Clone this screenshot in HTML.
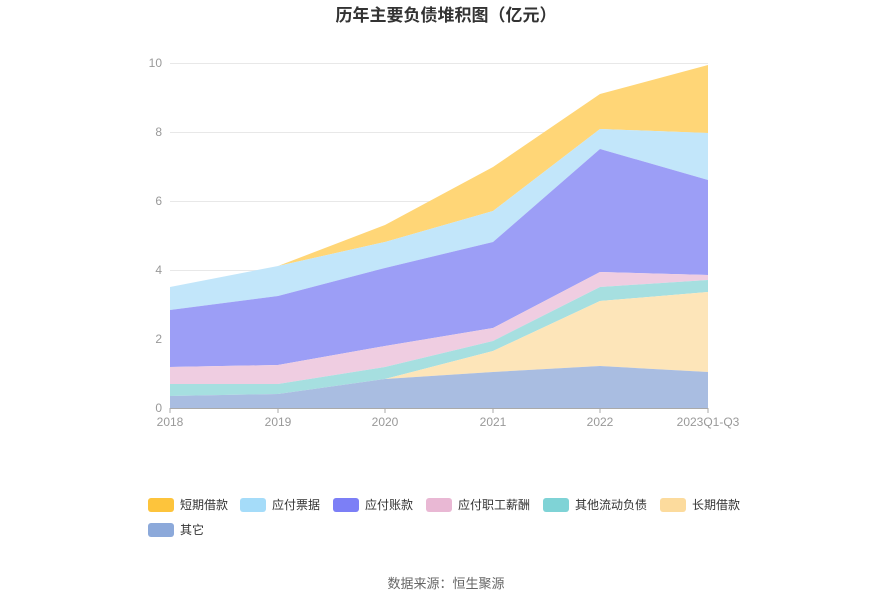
<!DOCTYPE html>
<html><head><meta charset="utf-8"><style>
body{margin:0;background:#fff;font-family:"Liberation Sans","Noto Sans CJK SC",sans-serif;}
</style></head><body>
<svg width="893" height="602" xmlns="http://www.w3.org/2000/svg" style="font-family:'Liberation Sans','Noto Sans CJK SC',sans-serif">
<rect width="893" height="602" fill="#fff"/>
<text x="446" y="21" text-anchor="middle" font-size="17" font-weight="bold" fill="#333">历年主要负债堆积图（亿元）</text>
<g stroke="#e8e8e8" stroke-width="1">
<line x1="170" y1="63.5" x2="708" y2="63.5"/><line x1="170" y1="132.5" x2="708" y2="132.5"/>
<line x1="170" y1="201.5" x2="708" y2="201.5"/><line x1="170" y1="270.5" x2="708" y2="270.5"/>
<line x1="170" y1="339.5" x2="708" y2="339.5"/>
</g>
<g font-size="12" fill="#999" text-anchor="end">
<text x="162" y="412">0</text><text x="162" y="343">2</text><text x="162" y="274">4</text>
<text x="162" y="205">6</text><text x="162" y="136">8</text><text x="162" y="67">10</text>
</g>
<!-- short borrow -->
<polygon fill="#ffd677" points="170,287 278,266 385,225 493,167 600,94 708,65 708,133 600,129 493,211 385,242 278,266 170,287"/>
<polygon fill="#c2e6fa" points="170,287 278,266 385,242 493,211 600,129 708,133 708,180 600,149 493,242 385,268 278,296 170,310"/>
<polygon fill="#9c9ef6" points="170,310 278,296 385,268 493,242 600,149 708,180 708,275 600,272 493,328 385,346 278,365 170,367"/>
<polygon fill="#efcde1" points="170,367 278,365 385,346 493,328 600,272 708,275 708,280 600,287 493,341 385,367 278,384 170,384"/>
<polygon fill="#a6dfe0" points="170,384 278,384 385,367 493,341 600,287 708,280 708,292 600,301 493,351 385,379 278,394 170,396"/>
<polygon fill="#fde5b9" points="170,396 278,394 385,379 493,351 600,301 708,292 708,372 600,366 493,372 385,379 278,394 170,396"/>
<polygon fill="#a9bde1" points="170,396 278,394 385,379 493,372 600,366 708,372 708,408 170,408"/>
<line x1="170" y1="408.5" x2="708" y2="408.5" stroke="#aaa"/>
<g stroke="#aaa"><line x1="170" y1="408" x2="170" y2="413"/><line x1="278" y1="408" x2="278" y2="413"/><line x1="385" y1="408" x2="385" y2="413"/><line x1="493" y1="408" x2="493" y2="413"/><line x1="600" y1="408" x2="600" y2="413"/><line x1="708" y1="408" x2="708" y2="413"/></g>
<g font-size="12" fill="#999" text-anchor="middle">
<text x="170" y="426">2018</text><text x="278" y="426">2019</text><text x="385" y="426">2020</text>
<text x="493" y="426">2021</text><text x="600" y="426">2022</text><text x="708" y="426">2023Q1-Q3</text>
</g>
<g font-size="12" fill="#333">
<rect x="148" y="498" width="26" height="14" rx="3" fill="#fdc43c"/><text x="180" y="509">短期借款</text>
<rect x="240" y="498" width="26" height="14" rx="3" fill="#a5dcf9"/><text x="272" y="509">应付票据</text>
<rect x="333" y="498" width="26" height="14" rx="3" fill="#7c7ff6"/><text x="365" y="509">应付账款</text>
<rect x="426" y="498" width="26" height="14" rx="3" fill="#e9b8d4"/><text x="458" y="509">应付职工薪酬</text>
<rect x="543" y="498" width="26" height="14" rx="3" fill="#7fd3d6"/><text x="575" y="509">其他流动负债</text>
<rect x="660" y="498" width="26" height="14" rx="3" fill="#fcdb9d"/><text x="692" y="509">长期借款</text>
<rect x="148" y="523" width="26" height="14" rx="3" fill="#8ca9da"/><text x="180" y="534">其它</text>
</g>
<text x="446" y="588" text-anchor="middle" font-size="13" fill="#666">数据来源：恒生聚源</text>
</svg>
</body></html>
